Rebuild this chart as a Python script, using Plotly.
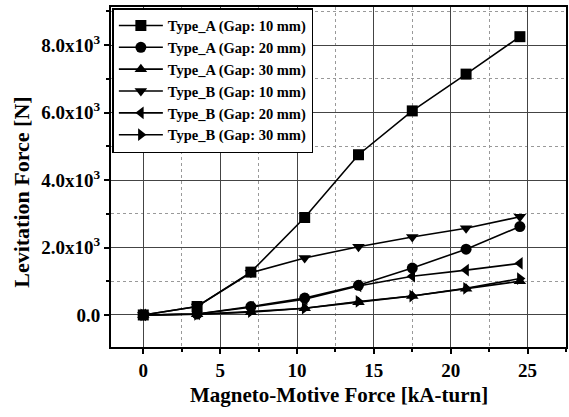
import plotly.graph_objects as go

mmf = [0, 3.5, 7, 10.5, 14, 17.5, 21, 24.5]
a10 = [0, 250, 1270, 2890, 4750, 6050, 7140, 8250]
a20 = [0, 30, 250, 500, 880, 1390, 1950, 2620]
a30 = [0, 20, 80, 200, 380, 560, 780, 1000]
b10 = [0, 250, 1250, 1690, 2020, 2310, 2570, 2910]
b20 = [0, 30, 230, 470, 860, 1150, 1330, 1530]
b30 = [0, 20, 100, 200, 400, 560, 790, 1080]

names = ["Type_A (Gap: 10 mm)", "Type_A (Gap: 20 mm)", "Type_A (Gap: 30 mm)",
         "Type_B (Gap: 10 mm)", "Type_B (Gap: 20 mm)", "Type_B (Gap: 30 mm)"]
series = [a10, a20, a30, b10, b20, b30]
symbols = ["square", "circle", "triangle-up", "triangle-down", "triangle-left", "triangle-right"]

ytickvals = [0, 2000, 4000, 6000, 8000]
yticktext = ["0.0", "2.0x10<sup>3</sup>", "4.0x10<sup>3</sup>", "6.0x10<sup>3</sup>", "8.0x10<sup>3</sup>"]
xtickvals = [0, 5, 10, 15, 20, 25]
xtitle = "Magneto-Motive Force [kA-turn]"
ytitle = "Levitation Force [N]"

FONT = "Liberation Serif"

fig = go.Figure()
for name, ys, sym in zip(names, series, symbols):
    fig.add_trace(go.Scatter(
        x=mmf, y=ys, name=name, mode="lines+markers",
        line=dict(color="black", width=1.6),
        marker=dict(symbol=sym, size=11, color="black"),
    ))

fig.update_layout(
    width=569, height=417,
    margin=dict(l=111, r=3, t=7, b=70, autoexpand=False),
    paper_bgcolor="white", plot_bgcolor="white",
    font=dict(family=FONT, size=15, color="black"),
    showlegend=True,
    legend=dict(
        x=0.003, y=0.997, xanchor="left", yanchor="top",
        bgcolor="white", bordercolor="black", borderwidth=1.5,
        font=dict(family=FONT, size=14.5, color="black", weight="bold"),
        tracegroupgap=0, itemwidth=44,
    ),
    xaxis=dict(
        range=[-2.1, 27.5], tickvals=xtickvals, ticktext=[f"<b>{v}</b>" for v in xtickvals],
        showline=True, linecolor="black", linewidth=2, mirror=True,
        ticks="outside", ticklen=5, tickwidth=1.5, tickcolor="black",
        showgrid=True, gridcolor="#444", gridwidth=1,
        minor=dict(dtick=2.5, showgrid=True, gridcolor="#999", griddash="dot",
                   ticks="outside", ticklen=3, tickcolor="black"),
        zeroline=False, automargin=False,
        tickfont=dict(size=19),
    ),
    yaxis=dict(
        range=[-950, 9130], tickvals=ytickvals, ticktext=[f"<b>{t}</b>" for t in yticktext],
        showline=True, linecolor="black", linewidth=2, mirror=True,
        ticks="outside", ticklen=5, tickwidth=1.5, tickcolor="black",
        showgrid=True, gridcolor="#444", gridwidth=1,
        minor=dict(dtick=1000, showgrid=True, gridcolor="#999", griddash="dot",
                   ticks="outside", ticklen=3, tickcolor="black"),
        zeroline=False, automargin=False,
        tickfont=dict(size=19),
    ),
    annotations=[
        dict(text=f"<b>{xtitle}</b>", xref="paper", yref="paper", x=0.5, y=-0.141,
             xanchor="center", yanchor="middle", showarrow=False, font=dict(size=21)),
        dict(text=f"<b>{ytitle}</b>", xref="paper", yref="paper", x=-0.196, y=0.456,
             xanchor="center", yanchor="middle", showarrow=False, textangle=-90,
             font=dict(size=22)),
    ],
)

fig.write_html(
    "out.html",
    config={"displayModeBar": False},
    post_script="document.body.style.margin='0';document.body.style.overflow='hidden';",
)
